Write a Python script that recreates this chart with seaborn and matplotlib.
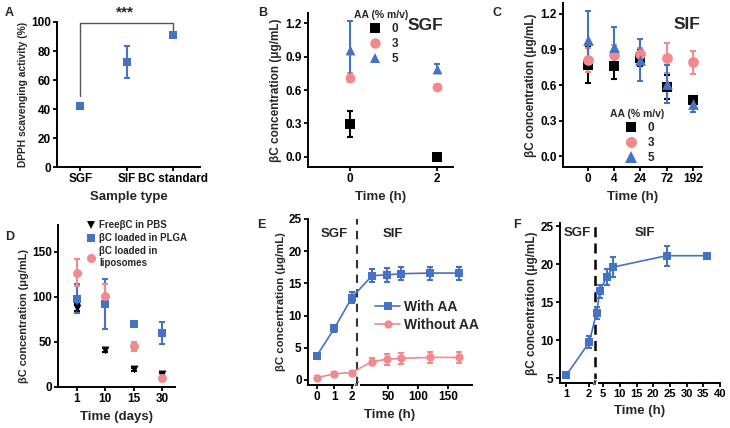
import matplotlib
matplotlib.use("Agg")
import matplotlib.pyplot as plt
from matplotlib.lines import Line2D
import numpy as np
import seaborn as sns

sns.set_theme(style="ticks")
plt.rcParams["font.family"] = ["Liberation Sans", "DejaVu Sans"]
plt.rcParams["font.weight"] = "bold"
plt.rcParams["axes.labelweight"] = "bold"

BLUE = "#4472C4"
PINK = "#F08A8C"
BLACK = "black"

# A: DPPH scavenging
a_types = ["SGF", "SIF", "BC standard"]
a_mean = [41.8, 72.4, 91.3]
a_err = [2.0, 11.0, 1.5]

# B: SGF stability
b_time = [0, 2]
b_aa0, b_aa0_err = [0.295, 0.0], [0.12, 0.0]
b_aa3, b_aa3_err = [0.71, 0.63], [0.04, 0.01]
b_aa5, b_aa5_err = [0.96, 0.79], [0.26, 0.04]

# C: SIF stability
c_time = ["0", "4", "24", "72", "192"]
c_aa0, c_aa0_err = [0.77, 0.76, 0.83, 0.58, 0.475], [0.15, 0.11, 0.07, 0.10, 0.03]
c_aa3, c_aa3_err = [0.81, 0.85, 0.86, 0.83, 0.79], [0.10, 0.09, 0.05, 0.125, 0.10]
c_aa5, c_aa5_err = [0.98, 0.92, 0.81, 0.61, 0.44], [0.24, 0.17, 0.18, 0.16, 0.07]

# D: storage
d_days = ["1", "10", "15", "30"]
d_free, d_free_err = [88, 41, 19.5, 14], [4, 2, 2, 2]
d_plga, d_plga_err = [98, 92, 70, 60], [16, 28, 2, 12]
d_lipo, d_lipo_err = [127, 101.5, 45.5, 9.5], [15, 13, 5, 3]

# E: release with / without AA
e_time = [0, 1, 2, 24, 48, 72, 120, 168]
e_with = [3.75, 8.0, 12.8, 16.2, 16.3, 16.5, 16.6, 16.6]
e_with_err = [0.3, 0.5, 0.9, 1.0, 1.1, 1.0, 1.0, 1.0]
e_without = [0.35, 0.95, 1.15, 2.85, 3.2, 3.35, 3.5, 3.5]
e_without_err = [0.2, 0.3, 0.3, 0.5, 0.8, 0.8, 0.9, 0.9]

# F: release
f_time = [1, 2, 3, 4, 6, 8, 24, 36]
f_conc = [5.35, 9.7, 13.6, 16.4, 18.3, 19.6, 21.1, 21.1]
f_err = [0.2, 0.8, 0.8, 0.9, 1.1, 1.3, 1.3, 0.2]

YLAB = "\u03b2C concentration (\u03bcg/mL)"


def style(ax, xsize=8.5, ylab=8.5):
    sns.despine(ax=ax)
    for s in ("left", "bottom"):
        ax.spines[s].set_linewidth(1.4)
        ax.spines[s].set_color("black")
    ax.tick_params(direction="out", length=3, width=1.3, labelsize=8.5, pad=1.5,
                   colors="black")
    ax.tick_params(axis="x", labelsize=xsize)
    ax.xaxis.label.set_size(9.5)
    ax.yaxis.label.set_size(ylab)
    ax.yaxis.labelpad = 2
    for t in ax.get_xticklabels() + ax.get_yticklabels():
        t.set_fontweight("bold")


def series(ax, x, y, err, color, marker, s, line=False):
    ax.errorbar(x, y, yerr=err, fmt="none", ecolor=color, elinewidth=1.5,
                capsize=2.5, capthick=1.5, zorder=2)
    if line:
        sns.lineplot(x=x, y=y, color=color, lw=1.2, ax=ax, zorder=2)
    sns.scatterplot(x=x, y=y, color=color, marker=marker, s=s, linewidth=0,
                    ax=ax, zorder=3, legend=False)


def broken(split, gap, k):
    tstar = split + gap / (1 - k)

    def fwd(x):
        x = np.asarray(x, dtype=float)
        return np.where(x <= tstar, x, split + gap + (x - split) * k)

    def inv(y):
        y = np.asarray(y, dtype=float)
        return np.where(y <= tstar, y, split + (y - split - gap) / k)
    return fwd, inv


def handle(marker, color, ms, ls="none"):
    return Line2D([], [], marker=marker, color=color, ms=ms, ls=ls, lw=1.2,
                  markeredgewidth=0)


fig = plt.figure(figsize=(7.3, 4.28), dpi=100)

# ---- A
ax = fig.add_axes([0.0781, 0.6098, 0.1959, 0.3388])
xa = np.arange(len(a_types))
series(ax, xa, a_mean, a_err, BLUE, "s", 36)
ax.set_xlim(-0.5, 2.58); ax.set_ylim(0, 100)
ax.set_xticks(xa, a_types); ax.set_yticks(range(0, 101, 20))
ax.set_xlabel("Sample type"); ax.set_ylabel("DPPH scavenging activity (%)")
ax.plot([0, 0, 2, 2], [49, 99.5, 99.5, 94.5], color="#555555", lw=1, clip_on=False)
ax.text(0.97, 102, "***", ha="center", va="bottom", fontsize=11, fontweight="bold")
style(ax, ylab=7.4)

# ---- B
ax = fig.add_axes([0.4219, 0.6098, 0.1986, 0.3598])
series(ax, b_time, b_aa0, b_aa0_err, BLACK, "s", 42)
series(ax, b_time, b_aa3, b_aa3_err, PINK, "o", 50)
series(ax, b_time, b_aa5, b_aa5_err, BLUE, "^", 50)
ax.set_xlim(-0.97, 2.37); ax.set_ylim(-0.09, 1.29)
ax.set_xticks(b_time); ax.set_yticks([0, 0.3, 0.6, 0.9, 1.2])
ax.yaxis.set_major_formatter(matplotlib.ticker.FormatStrFormatter("%.1f"))
ax.set_xlabel("Time (h)"); ax.set_ylabel(YLAB)
ax.text(0.807, 0.922, "SGF", transform=ax.transAxes, ha="center", va="center",
        fontsize=12.5, fontweight="bold")
ax.legend([handle("s", BLACK, 6.5), handle("o", PINK, 7.5), handle("^", BLUE, 7.5)],
          ["0", "3", "5"], title="AA (% m/v)", loc="upper left",
          bbox_to_anchor=(0.26, 1.07), frameon=False, fontsize=8.5,
          title_fontsize=7.5, handletextpad=0.4, labelspacing=0.25,
          borderpad=0.2)
style(ax)

# ---- C
ax = fig.add_axes([0.7712, 0.6098, 0.1904, 0.3832])
xc = np.arange(len(c_time))
series(ax, xc, c_aa0, c_aa0_err, BLACK, "s", 42)
series(ax, xc, c_aa3, c_aa3_err, PINK, "o", 60)
series(ax, xc, c_aa5, c_aa5_err, BLUE, "^", 60)
ax.set_xlim(-0.96, 4.35); ax.set_ylim(-0.09, 1.29)
ax.set_xticks(xc, c_time); ax.set_yticks([0, 0.3, 0.6, 0.9, 1.2])
ax.yaxis.set_major_formatter(matplotlib.ticker.FormatStrFormatter("%.1f"))
ax.set_xlabel("Time (h)"); ax.set_ylabel(YLAB)
ax.text(0.89, 0.866, "SIF", transform=ax.transAxes, ha="center", va="center",
        fontsize=12.5, fontweight="bold")
ax.legend([handle("s", BLACK, 6.5), handle("o", PINK, 8), handle("^", BLUE, 8)],
          ["0", "3", "5"], title="AA (% m/v)", loc="lower center",
          bbox_to_anchor=(0.53, -0.03), frameon=False, fontsize=8.5,
          title_fontsize=7.5, handletextpad=0.4, labelspacing=0.25, borderpad=0.2)
style(ax)

# ---- D
ax = fig.add_axes([0.0795, 0.0958, 0.1603, 0.3785])
xd = np.arange(len(d_days))
series(ax, xd, d_free, d_free_err, BLACK, "v", 32)
series(ax, xd, d_plga, d_plga_err, BLUE, "s", 30)
series(ax, xd, d_lipo, d_lipo_err, PINK, "o", 42)
ax.set_xlim(-0.67, 3.46); ax.set_ylim(0, 180)
ax.set_xticks(xd, d_days); ax.set_yticks([0, 50, 100, 150])
ax.set_xlabel("Time (days)"); ax.set_ylabel(YLAB, y=0.44)
ax.legend([handle("v", BLACK, 6), handle("s", BLUE, 5.5), handle("o", PINK, 6.5)],
          ["Free\u03b2C in PBS", "\u03b2C loaded in PLGA", "\u03b2C loaded in\nliposomes"],
          loc="upper left", bbox_to_anchor=(0.17, 1.07), frameon=False,
          fontsize=7, handletextpad=0.3, labelspacing=0.3, borderpad=0.2,
          handlelength=1.2)
style(ax, ylab=7.9)

# ---- E
ax = fig.add_axes([0.4219, 0.1005, 0.2247, 0.3879])
fwd, inv = broken(2, 0.4, 0.0343)
ax.set_xscale("function", functions=(fwd, inv))
series(ax, e_time, e_with, e_with_err, BLUE, "s", 30, line=True)
series(ax, e_time, e_without, e_without_err, PINK, "o", 36, line=True)
ax.set_xlim(-0.5, 190); ax.set_ylim(-0.78, 25)
ax.set_xticks([0, 1, 2, 50, 100, 150], ["0", "1", "2", "50", "100", "150"])
ax.set_yticks(range(0, 26, 5))
ax.axvline(2.29, color="#333333", lw=1.5, ls=(0, (4, 3)), zorder=1)
ax.text(2.29, 0, "//", transform=ax.get_xaxis_transform(), ha="center", va="center",
        fontsize=6, color="black", bbox=dict(fc="white", ec="none", pad=0.2))
ax.set_xlabel("Time (h)"); ax.set_ylabel(YLAB)
ax.text(0.16, 0.91, "SGF", transform=ax.transAxes, ha="center", va="center",
        fontsize=9.5, fontweight="bold")
ax.text(0.52, 0.91, "SIF", transform=ax.transAxes, ha="center", va="center",
        fontsize=9.5, fontweight="bold")
ax.legend([handle("s", BLUE, 5.5, "-"), handle("o", PINK, 6, "-")],
          ["With AA", "Without AA"], loc="upper left", bbox_to_anchor=(0.35, 0.57),
          frameon=False, fontsize=10, handletextpad=0.3, labelspacing=0.3,
          handlelength=1.8, borderpad=0.2)
style(ax, ylab=8.2)

# ---- F
ax = fig.add_axes([0.7671, 0.1051, 0.2192, 0.3738])
fwd, inv = broken(2, 0.174, 0.145)
ax.set_xscale("function", functions=(fwd, inv))
series(ax, f_time, f_conc, f_err, BLUE, "s", 34, line=True)
ax.set_xlim(0.73, 40); ax.set_ylim(4.34, 25.4)
ax.set_xticks([1, 2] + list(range(5, 41, 5)))
ax.set_xticklabels(["1", "2"] + [str(v) for v in range(5, 41, 5)])
ax.set_yticks(range(5, 26, 5))
ax.axvline(2.6, color="black", lw=1.8, ls=(0, (4, 2.5)), zorder=1)
ax.text(2.6, 0, "//", transform=ax.get_xaxis_transform(), ha="center", va="center",
        fontsize=6, color="black", bbox=dict(fc="white", ec="none", pad=0.2))
ax.set_xlabel("Time (h)"); ax.set_ylabel(YLAB)
ax.text(0.11, 0.94, "SGF", transform=ax.transAxes, ha="center", va="center",
        fontsize=9.5, fontweight="bold")
ax.text(0.53, 0.94, "SIF", transform=ax.transAxes, ha="center", va="center",
        fontsize=9.5, fontweight="bold")
style(ax, xsize=8)

# panel letters
for lab, (x, y) in zip("ABCDEF", [(0.007, 0.97), (0.353, 0.97), (0.674, 0.97),
                                 (0.007, 0.446), (0.352, 0.474), (0.703, 0.474)]):
    fig.text(x, y, lab, ha="left", va="center", fontsize=9, fontweight="bold")

fig.savefig("out.png", dpi=100)
